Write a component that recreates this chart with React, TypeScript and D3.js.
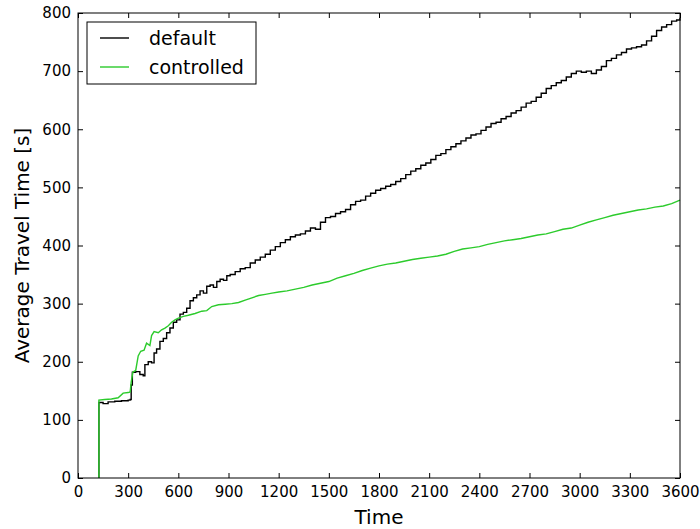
import React, { useEffect, useRef } from 'react';
import * as d3 from 'd3';

// time [s], average travel time [s]
const defaultTimes = [125, 125, 150, 180, 220, 260, 300, 312, 318, 325, 345, 370, 390, 400, 420, 440, 455, 470, 490, 510, 530, 550, 570, 590, 610, 630, 650, 670, 690, 710, 730, 750, 770, 790, 810, 830, 850, 870, 890, 910, 940, 970, 1000, 1030, 1060, 1090, 1120, 1150, 1180, 1210, 1240, 1270, 1300, 1330, 1360, 1390, 1420, 1450, 1480, 1510, 1540, 1570, 1600, 1630, 1660, 1690, 1720, 1750, 1780, 1810, 1840, 1870, 1900, 1930, 1960, 1990, 2020, 2050, 2080, 2110, 2140, 2170, 2200, 2230, 2260, 2290, 2320, 2350, 2380, 2410, 2440, 2470, 2500, 2530, 2560, 2590, 2620, 2650, 2680, 2710, 2740, 2770, 2800, 2830, 2860, 2890, 2920, 2950, 2980, 3010, 3040, 3070, 3100, 3130, 3160, 3190, 3220, 3250, 3280, 3310, 3340, 3370, 3400, 3430, 3460, 3490, 3520, 3550, 3580, 3600];
const defaultValues = [0, 130, 128, 131, 132, 133, 134, 135, 160, 182, 183, 178, 176, 195, 200, 198, 215, 222, 235, 240, 250, 258, 268, 272, 282, 285, 292, 305, 310, 315, 322, 318, 330, 332, 328, 338, 342, 340, 348, 350, 355, 360, 362, 370, 375, 380, 385, 392, 398, 405, 410, 415, 418, 420, 425, 430, 428, 440, 448, 450, 455, 458, 462, 470, 476, 478, 485, 490, 495, 498, 502, 505, 510, 515, 522, 528, 532, 538, 542, 548, 555, 558, 565, 570, 575, 580, 585, 590, 592, 598, 604, 610, 612, 618, 622, 628, 632, 638, 645, 648, 655, 662, 670, 675, 680, 684, 690, 696, 700, 698, 700, 696, 702, 708, 718, 722, 728, 732, 738, 740, 742, 745, 752, 760, 770, 776, 780, 786, 788, 792];

const controlledTimes = [125, 125, 160, 200, 240, 270, 300, 312, 318, 328, 345, 360, 375, 395, 410, 430, 440, 455, 480, 500, 520, 540, 560, 580, 600, 630, 660, 700, 740, 770, 800, 840, 880, 920, 960, 1000, 1040, 1080, 1120, 1160, 1200, 1250, 1300, 1350, 1400, 1450, 1500, 1550, 1600, 1650, 1700, 1750, 1800, 1850, 1900, 1950, 2000, 2050, 2100, 2150, 2200, 2250, 2300, 2350, 2400, 2450, 2500, 2550, 2600, 2650, 2700, 2750, 2800, 2850, 2900, 2950, 3000, 3050, 3100, 3150, 3200, 3250, 3300, 3350, 3400, 3450, 3500, 3550, 3600];
const controlledValues = [0, 134, 135, 136, 138, 146, 147, 148, 165, 182, 185, 210, 218, 220, 232, 228, 245, 252, 250, 255, 258, 262, 268, 272, 275, 278, 280, 283, 287, 288, 295, 298, 299, 300, 302, 306, 310, 314, 316, 318, 320, 322, 325, 328, 332, 335, 338, 344, 348, 352, 357, 361, 365, 368, 370, 373, 376, 378, 380, 382, 385, 390, 394, 396, 398, 402, 405, 408, 410, 412, 415, 418, 420, 424, 428, 430, 435, 440, 444, 448, 452, 455, 458, 461, 463, 466, 468, 472, 478];

const xTicks = [0, 300, 600, 900, 1200, 1500, 1800, 2100, 2400, 2700, 3000, 3300, 3600];
const yTicks = [0, 100, 200, 300, 400, 500, 600, 700, 800];

const seriesNames = ['default', 'controlled'];
const seriesColors = ['#000000', '#2ccb2c'];

const App = () => {
  const svgRef = useRef(null);

  useEffect(() => {
    const width = 700;
    const height = 529;
    const margin = { top: 13, right: 20, bottom: 51, left: 78 };
    const innerWidth = width - margin.left - margin.right;
    const innerHeight = height - margin.top - margin.bottom;
    const font = 'DejaVu Sans, sans-serif';

    const svg = d3.select(svgRef.current)
      .attr('width', width)
      .attr('height', height);
    svg.selectAll('*').remove();

    const g = svg.append('g')
      .attr('transform', `translate(${margin.left},${margin.top})`);

    const xScale = d3.scaleLinear().domain([0, 3600]).range([0, innerWidth]);
    const yScale = d3.scaleLinear().domain([0, 800]).range([innerHeight, 0]);

    const seriesData = [
      defaultTimes.map((t, i) => [t, defaultValues[i]]),
      controlledTimes.map((t, i) => [t, controlledValues[i]])
    ];

    // default is a jagged staircase, controlled is much smoother
    const curves = [d3.curveStepAfter, d3.curveLinear];

    [0, 1].forEach(i => {
      const line = d3.line<number[]>()
        .x(d => xScale(d[0]))
        .y(d => yScale(d[1]))
        .curve(curves[i]);
      g.append('path')
        .attr('d', line(seriesData[i]))
        .attr('fill', 'none')
        .attr('stroke', seriesColors[i])
        .attr('stroke-width', 1.4);
    });

    // axes with inward ticks (matplotlib classic style)
    const styleAxis = (sel) => {
      sel.select('.domain').remove();
      sel.selectAll('.tick line').attr('stroke', '#000');
      sel.selectAll('text')
        .style('font-family', font)
        .style('font-size', '15px')
        .attr('fill', '#000');
    };

    const xAxis = g.append('g')
      .attr('transform', `translate(0,${innerHeight})`)
      .call(d3.axisBottom(xScale).tickValues(xTicks).tickSize(-5).tickPadding(8).tickFormat(d3.format('d')));
    styleAxis(xAxis);

    const yAxis = g.append('g')
      .call(d3.axisLeft(yScale).tickValues(yTicks).tickSize(-5).tickPadding(7).tickFormat(d3.format('d')));
    styleAxis(yAxis);

    const xTop = g.append('g')
      .call(d3.axisTop(xScale).tickValues(xTicks).tickSize(-5).tickFormat(() => ''));
    xTop.select('.domain').remove();
    xTop.selectAll('.tick line').attr('stroke', '#000');

    const yRight = g.append('g')
      .attr('transform', `translate(${innerWidth},0)`)
      .call(d3.axisRight(yScale).tickValues(yTicks).tickSize(-5).tickFormat(() => ''));
    yRight.select('.domain').remove();
    yRight.selectAll('.tick line').attr('stroke', '#000');

    // frame
    g.append('rect')
      .attr('width', innerWidth)
      .attr('height', innerHeight)
      .attr('fill', 'none')
      .attr('stroke', '#000')
      .attr('stroke-width', 1);

    // axis labels
    g.append('text')
      .attr('x', innerWidth / 2)
      .attr('y', innerHeight + 46)
      .attr('text-anchor', 'middle')
      .style('font-family', font)
      .style('font-size', '20px')
      .text('Time');

    g.append('text')
      .attr('transform', 'rotate(-90)')
      .attr('x', -innerHeight / 2)
      .attr('y', -49)
      .attr('text-anchor', 'middle')
      .style('font-family', font)
      .style('font-size', '20px')
      .text('Average Travel Time [s]');

    // legend
    const legend = g.append('g')
      .attr('transform', 'translate(9,9)');

    legend.append('rect')
      .attr('width', 169)
      .attr('height', 62)
      .attr('fill', '#fff')
      .attr('stroke', '#000')
      .attr('stroke-width', 1);

    seriesNames.forEach((name, i) => {
      const item = legend.append('g')
        .attr('transform', `translate(0, ${16 + i * 29})`);
      item.append('line')
        .attr('x1', 13)
        .attr('x2', 42)
        .attr('stroke', seriesColors[i])
        .attr('stroke-width', 1.4);
      item.append('text')
        .attr('x', 62)
        .attr('dy', '0.35em')
        .style('font-family', font)
        .style('font-size', '19px')
        .text(name);
    });
  }, []);

  return (
    <svg ref={svgRef} style={{ position: 'absolute', left: 0, top: 0, background: '#fff' }}></svg>
  );
};

export default App;
